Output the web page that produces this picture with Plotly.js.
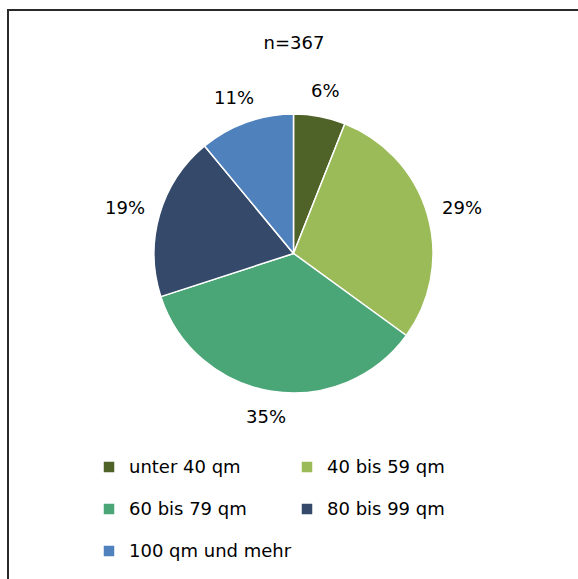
<!DOCTYPE html>
<html><head><meta charset="utf-8">
<script src="https://cdn.plot.ly/plotly-3.0.1.min.js"></script>
<style>html,body{margin:0;padding:0;background:#fff}</style>
</head><body><div id="chart" style="width:578px;height:579px"></div>
<script>
const categories = ['unter 40 qm', '40 bis 59 qm', '60 bis 79 qm', '80 bis 99 qm', '100 qm und mehr'];
const shares = [6, 29, 35, 19, 11];
const sampleLabel = 'n=367';
const colors = ['#4F6228', '#9BBB59', '#4AA577', '#354A6A', '#4F81BD'];

const W = 578, H = 579;
const FONT = 'DejaVu Sans, sans-serif';
const dom = {x: [154 / W, 433 / W], y: [1 - 393 / H, 1 - 114 / H]};

// label positions derived from the slice angles
const total = shares.reduce((a, b) => a + b, 0);
const cx = (dom.x[0] + dom.x[1]) / 2 * W;
const cy = (1 - (dom.y[0] + dom.y[1]) / 2) * H;
const R = Math.min((dom.x[1] - dom.x[0]) * W, (dom.y[1] - dom.y[0]) * H) / 2;
let cum = 0;
const annotations = shares.map((v) => {
  const th = 2 * Math.PI * (cum + v / 2) / total;
  cum += v;
  const txt = v + '%';
  const w = txt.length * 12.5, h = 18, r = R + 17;
  const px = cx + r * Math.sin(th) + Math.sin(th) * w / 2;
  const py = cy - r * Math.cos(th) - Math.cos(th) * h / 2;
  return {text: txt, x: px / W, y: 1 - py / H, xref: 'paper', yref: 'paper',
    xanchor: 'center', yanchor: 'middle', showarrow: false,
    font: {family: FONT, size: 18, color: '#000'}};
});

const data = [{
  type: 'pie',
  labels: categories.map(c => '<span style="font-size:18px;baseline-shift:6px">' + c + '</span>'),
  values: shares,
  sort: false,
  direction: 'clockwise',
  rotation: 0,
  textinfo: 'none',
  hoverinfo: 'skip',
  marker: {colors: colors, line: {color: '#ffffff', width: 1.5}},
  domain: dom
}];

const layout = {
  width: W, height: H,
  margin: {l: 0, r: 0, t: 0, b: 0},
  paper_bgcolor: '#ffffff',
  font: {family: FONT, color: '#000'},
  title: {text: sampleLabel, x: 294 / W, xanchor: 'center', y: 1 - 43 / H, yanchor: 'middle',
    font: {family: FONT, size: 18, color: '#000'}},
  showlegend: true,
  legend: {orientation: 'h', x: 89 / W, xanchor: 'left', y: 1 - 441 / H, yanchor: 'top',
    entrywidth: 153, font: {family: FONT, size: 30, color: '#000'}, traceorder: 'normal'},
  annotations: annotations,
  shapes: [{type: 'rect', xref: 'paper', yref: 'paper', x0: 8 / W, x1: 1.02, y0: -0.02, y1: 1 - 10 / H,
    line: {color: '#2a2a2a', width: 2}, fillcolor: 'rgba(0,0,0,0)'}]
};

Plotly.newPlot('chart', data, layout, {displayModeBar: false, staticPlot: true});
</script>
</body></html>
